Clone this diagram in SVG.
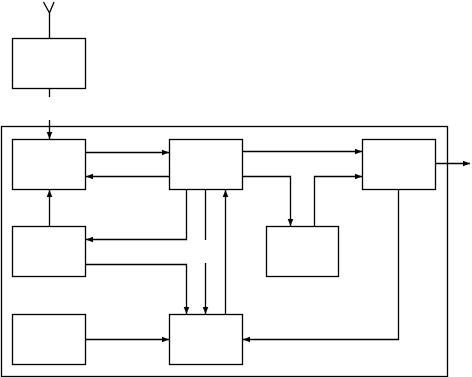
<svg xmlns="http://www.w3.org/2000/svg" width="472" height="377" viewBox="0 0 472 377">
<style>
.box{fill:#fff;stroke:#000;stroke-width:1.3}
.ln{fill:none;stroke:#000;stroke-width:1.3}
.arr{marker-end:url(#ah)}
</style>
<defs>
<marker id="ah" viewBox="0 0 10 10" refX="10" refY="5" markerWidth="7" markerHeight="7" markerUnits="userSpaceOnUse" orient="auto">
<path d="M0,1 L10,5 L0,9 Z" fill="#000"/>
</marker>
</defs>
<rect width="472" height="377" fill="#fff"/>
<g id="frame"><rect class="ln" x="1.5" y="126.5" width="446" height="250"/></g>
<g id="antenna"><path class="ln" d="M43.5,2 L49.5,13 L54,2 M49.5,13 L49.5,38"/></g>
<g id="top-box"><rect class="box" x="12.5" y="38.5" width="73" height="50"/></g>
<g id="box-a"><rect class="box" x="12.5" y="139.5" width="73" height="50"/></g>
<g id="box-b"><rect class="box" x="169.5" y="139.5" width="73" height="50"/></g>
<g id="box-c"><rect class="box" x="362.5" y="139.5" width="73" height="50"/></g>
<g id="box-d"><rect class="box" x="266.5" y="226.5" width="72" height="50"/></g>
<g id="box-e"><rect class="box" x="12.5" y="226.5" width="73" height="50"/></g>
<g id="box-f"><rect class="box" x="169.5" y="314.5" width="73" height="50"/></g>
<g id="box-g"><rect class="box" x="12.5" y="314.5" width="73" height="50"/></g>
<g id="connectors">
<path class="ln" d="M49.5,88.5 V97"/>
<path class="ln arr" d="M49.5,120 V139"/>
<path class="ln arr" d="M85.5,152.5 H169"/>
<path class="ln arr" d="M169.5,176.5 H86"/>
<path class="ln arr" d="M242.5,151.5 H362"/>
<path class="ln arr" d="M242.5,176.5 H290.5 V226"/>
<path class="ln arr" d="M314.5,226.5 V176.5 H362"/>
<path class="ln arr" d="M435.5,163.5 H470"/>
<path class="ln arr" d="M398.5,189.5 V339.5 H243"/>
<path class="ln arr" d="M186.5,189.5 V239.5 H86"/>
<path class="ln" d="M205.5,189.5 V240"/>
<path class="ln arr" d="M205.5,263 V314"/>
<path class="ln arr" d="M225.5,314.5 V190"/>
<path class="ln arr" d="M49.5,226.5 V190"/>
<path class="ln arr" d="M85.5,264.5 H186.5 V314"/>
<path class="ln arr" d="M85.5,339.5 H169"/>
</g>
</svg>
